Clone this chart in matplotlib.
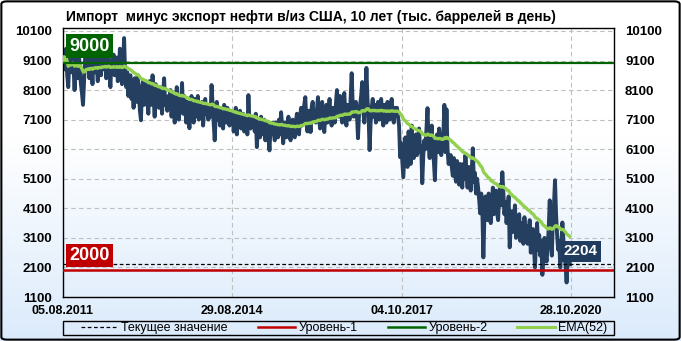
import matplotlib
matplotlib.use("Agg")
import matplotlib.pyplot as plt
import matplotlib.dates as mdates
import matplotlib.transforms as mtransforms
from matplotlib import font_manager
from matplotlib.lines import Line2D
from matplotlib.patches import FancyBboxPatch, Rectangle
import numpy as np
import pandas as pd

# weekly net imports (imports minus exports), thousand barrels per day
start_date = "2011-08-05"
tick_dates = ["2011-08-05", "2014-08-29", "2017-10-04", "2020-10-28"]
y_ticks = list(range(1100, 10101, 1000))
level_1 = 2000
level_2 = 9000
ema_span = 52

net_imports = [
    9050, 9400, 8800, 9500, 8600, 8200, 9100, 9300, 8700, 9450, 8900, 8100, 9200, 9000, 8500, 9350, 8800, 8300, 8000, 7600,
    8400, 9200, 9600, 8800, 9100, 8500, 9300, 9000, 8300, 9500, 8700, 9200, 8900, 8400, 9300, 9100, 8600, 9400, 8800, 9000,
    9200, 8500, 8900, 9400, 8700, 8200, 9100, 8800, 9300, 8600, 8900, 9200, 8400, 8800, 9500, 8700, 8300, 9000, 9860, 8600,
    8200, 8700, 7900, 8400, 8600, 7800, 8300, 7500, 8500, 8100, 7700, 8600, 8000, 7400, 7080, 8200, 8400, 7600, 8100, 8300,
    7800, 7300, 8400, 8000, 7600, 8600, 7900, 7200, 8300, 7700, 8100, 7500, 8200, 7900, 7300, 8000, 8500, 7600, 7800, 7400,
    7900, 7500, 8100, 7200, 7700, 7900, 7000, 7600, 8200, 7400, 7100, 7800, 7600, 8340, 7300, 7900, 7500, 7000, 7700, 7400,
    6810, 7600, 7900, 7300, 7000, 7800, 7500, 7200, 7900, 7100, 7600, 7400, 7700, 6900, 7500, 7800, 7300, 7600, 7100, 7500,
    7200, 8270, 7600, 7000, 6400, 7300, 7700, 7100, 7500, 6900, 7400, 7200, 6800, 7600, 7300, 7000, 7500, 7100, 6900, 7400,
    7000, 7300, 6700, 7100, 7500, 6600, 7200, 6900, 7400, 6800, 7100, 7300, 6700, 7000, 7200, 6600, 7930, 7000, 6800, 7200,
    6900, 7100, 6700, 7300, 6170, 6800, 7000, 6500, 7200, 6600, 6900, 7100, 6400, 6800, 7000, 6500, 6060, 6900, 6600, 7000,
    6700, 6400, 7000, 6800, 6500, 7100, 6600, 7350, 6900, 6300, 6800, 7000, 6500, 6700, 7200, 6600, 6400, 6900, 7100, 6700,
    6500, 7000, 7300, 6800, 6600, 7200, 7500, 6900, 7100, 7600, 7860, 7000, 6700, 7400, 7200, 6680, 7500, 7700, 7100, 7300,
    7000, 7400, 7860, 7200, 6800, 7500, 7700, 7100, 6680, 7300, 7600, 7000, 7400, 7800, 7200, 6900, 7500, 7300, 7000, 7600,
    8100, 7500, 7200, 7900, 7400, 7000, 7700, 8000, 7300, 6900, 7600, 7400, 7100, 7800, 8670, 7600, 7200, 7500, 7700, 7300,
    6470, 7300, 7600, 7900, 8370, 7400, 7000, 7700, 8850, 7800, 7300, 6070, 7000, 7500, 7800, 7200, 7600, 7000, 7400, 7700,
    7100, 7500, 7800, 7200, 6900, 7600, 7300, 7000, 7700, 7400, 7100, 7600, 7800, 7200, 7000, 7500, 7300, 7500, 7200, 6900,
    5830, 6300, 5700, 5150, 5800, 6500, 6000, 5500, 6700, 6200, 5600, 6900, 6100, 5800, 6400, 6600, 5900, 6300, 6800, 6000,
    6200, 4950, 5900, 6400, 6100, 6800, 7490, 6300, 5800, 6500, 6900, 6000, 5700, 5050, 6300, 6600, 6000, 6800, 6400, 5900,
    6200, 6600, 7600, 6000, 7450, 6100, 5600, 5760, 5900, 5500, 5200, 5800, 5400, 5000, 5700, 5300, 4900, 5600, 5200, 4800,
    5600, 5100, 5900, 5300, 4800, 5500, 5100, 4700, 5400, 6130, 5000, 5300, 4600, 5100, 4800, 4400, 3930, 4600, 4100, 2440,
    3800, 4500, 4100, 3700, 4600, 4300, 3600, 4200, 4800, 3900, 4400, 4700, 4000, 3700, 4500, 4900, 4200, 5320, 4600, 3900,
    4300, 3600, 4100, 4500, 2780, 3500, 4000, 3300, 3800, 4200, 3100, 3700, 3400, 3900, 3000, 3600, 3300, 2900, 3800, 3200,
    3500, 2900, 3300, 3700, 2600, 3100, 3400, 2800, 2100, 3000, 3600, 2700, 3200, 2500, 3000, 1850, 2400, 3100, 2600, 2300,
    2800, 3400, 4370, 3000, 2500, 3800, 4200, 5050, 3900, 3200, 2700, 3000, 2100, 2800, 3620, 3000, 2500, 2200, 1590, 2400,
    2700, 2204,
]

title = "Импорт  минус экспорт нефти в/из США, 10 лет (тыс. баррелей в день)"
legend_labels = ["Текущее значение", "Уровень-1", "Уровень-2", "EMA(52)"]

dates = pd.date_range(start_date, periods=len(net_imports), freq="7D")
ema = pd.Series(net_imports).ewm(span=ema_span, adjust=True).mean()
current = net_imports[-1]

names = {f.name for f in font_manager.fontManager.ttflist}
narrow = "Liberation Sans Narrow" if "Liberation Sans Narrow" in names else "Liberation Sans"
plt.rcParams["font.family"] = ["Liberation Sans", "DejaVu Sans"]

W, H = 681, 341
fig = plt.figure(figsize=(W / 100, H / 100), dpi=100)

# background gradient white -> light blue
bg = fig.add_axes([0, 0, 1, 1], zorder=-10)
t = np.linspace(0, 1, 300)
fade = np.clip((t - 0.4) / 0.6, 0, 1)
top = np.array([1.0, 1.0, 1.0])
bottom = np.array([0.86, 0.92, 0.985])
grad = top[None, :] * (1 - fade[:, None]) + bottom[None, :] * fade[:, None]
bg.imshow(grad[:, None, :], aspect="auto", extent=[0, 1, 0, 1], origin="upper")
bg.axis("off")

left, right, top_px, bot_px = 63, 614, 28, 297
ax = fig.add_axes([left / W, 1 - bot_px / H, (right - left) / W, (bot_px - top_px) / H])
ax.set_facecolor("none")

ax.plot(dates, net_imports, color="#243F60", lw=2.8, solid_joinstyle="round", zorder=2)
ax.plot(dates, ema, color="#92D050", lw=2.4, zorder=3)
ax.axhline(level_2, color="#006400", lw=1.6, zorder=4)
ax.axhline(level_1, color="#C00000", lw=1.8, zorder=4)
ax.axhline(current, color="black", lw=0.9, ls=(0, (3, 2)), zorder=4)

x0 = pd.Timestamp(start_date)
ax.set_xlim(x0, x0 + pd.Timedelta(days=3661))
ax.set_ylim(1100, 10200)
ax.set_yticks(y_ticks)
ax.set_xticks(pd.to_datetime(tick_dates))
ax.xaxis.set_major_formatter(mdates.DateFormatter("%d.%m.%Y"))
ax.grid(True, color="#BFBFBF", lw=0.8, ls=(0, (4, 3)))
ax.set_axisbelow(True)
ax.tick_params(axis="y", length=0, pad=8, labelleft=True, labelright=True, labelsize=9.5)
ax.tick_params(axis="x", length=0, pad=6, labelsize=9)
for lab in ax.get_xticklabels() + ax.get_yticklabels():
    lab.set_fontweight("bold")
for s in ax.spines.values():
    s.set_color("black")
    s.set_linewidth(1)

# level / current value labels
trans = mtransforms.blended_transform_factory(ax.transAxes, ax.transData)
ax.text(0.012, 9590, f"{level_2}", transform=trans, ha="left", va="center", color="white",
        fontsize=13, fontweight="bold", zorder=6,
        bbox=dict(boxstyle="square,pad=0.18", fc="#006400", ec="none"))
ax.text(0.012, 2510, f"{level_1}", transform=trans, ha="left", va="center", color="white",
        fontsize=13, fontweight="bold", zorder=6,
        bbox=dict(boxstyle="square,pad=0.18", fc="#C00000", ec="none"))
ax.text(0.94, 2640, f"{current}", transform=trans, ha="center", va="center", color="white",
        fontsize=11, fontweight="bold", zorder=6,
        bbox=dict(boxstyle="square,pad=0.22", fc="#1F3B5E", ec="none"))

fig.text(66 / W, 1 - 17 / H, title, ha="left", va="center", fontsize=10,
         fontweight="bold", family=[narrow, "DejaVu Sans"])

handles = [
    Line2D([], [], color="black", lw=0.9, ls=(0, (3, 2))),
    Line2D([], [], color="#C00000", lw=1.8),
    Line2D([], [], color="#006400", lw=1.8),
    Line2D([], [], color="#92D050", lw=2.2),
]
fig.legend(handles, legend_labels, loc="center", bbox_to_anchor=(344 / W, 1 - 328 / H),
           ncol=4, frameon=False, handlelength=3, handletextpad=0.25,
           columnspacing=2.4, prop={"family": [narrow, "DejaVu Sans"], "size": 9})
fig.add_artist(Rectangle((left / W, 1 - 335 / H), (right - left) / W, 14 / H,
                         transform=fig.transFigure, fill=False, ec="black", lw=1))
fig.add_artist(FancyBboxPatch((0.002, 0.004), 0.996, 0.992,
                              boxstyle="round,pad=0,rounding_size=0.008",
                              transform=fig.transFigure, fill=False, ec="black", lw=1.5))

fig.savefig("out.png", dpi=100)
